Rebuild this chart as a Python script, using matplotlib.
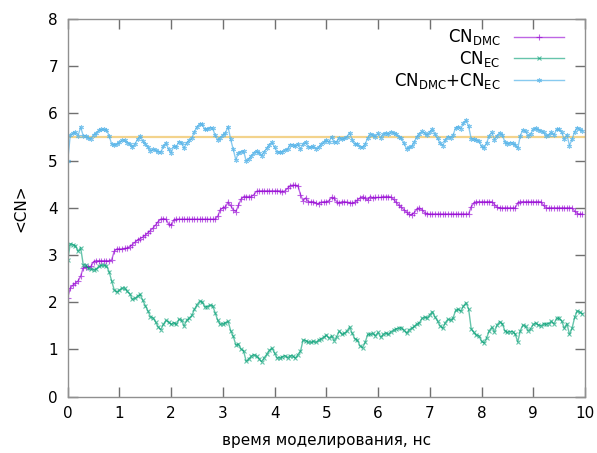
import numpy as np
import matplotlib
matplotlib.use("Agg")
import matplotlib.pyplot as plt


# ---------- DATA (0.05 ns step) ---------- #

time_ns = np.arange(200) * 0.05

cn_dmc = [
    2.10, 2.30, 2.36, 2.40, 2.45, 2.55, 2.73, 2.75, 2.75, 2.76,
    2.86, 2.88, 2.88, 2.88, 2.88, 2.88, 2.88, 2.90, 3.08, 3.13,
    3.13, 3.13, 3.14, 3.15, 3.18, 3.22, 3.27, 3.32, 3.35, 3.38,
    3.42, 3.47, 3.52, 3.57, 3.64, 3.71, 3.76, 3.77, 3.76, 3.66,
    3.63, 3.74, 3.76, 3.76, 3.76, 3.76, 3.76, 3.76, 3.76, 3.76,
    3.76, 3.76, 3.76, 3.76, 3.76, 3.76, 3.76, 3.76, 3.82, 3.96,
    4.00, 4.02, 4.12, 4.05, 3.96, 3.92, 4.05, 4.18, 4.24, 4.24,
    4.24, 4.24, 4.28, 4.35, 4.36, 4.36, 4.36, 4.36, 4.36, 4.36,
    4.36, 4.36, 4.36, 4.34, 4.36, 4.41, 4.47, 4.48, 4.48, 4.47,
    4.28, 4.15, 4.21, 4.13, 4.13, 4.13, 4.10, 4.08, 4.12, 4.13,
    4.13, 4.15, 4.22, 4.20, 4.13, 4.10, 4.13, 4.13, 4.12, 4.11,
    4.10, 4.12, 4.16, 4.21, 4.24, 4.20, 4.16, 4.24, 4.21, 4.22,
    4.22, 4.22, 4.24, 4.24, 4.24, 4.23, 4.18, 4.12, 4.06, 4.01,
    3.96, 3.91, 3.86, 3.85, 3.90, 3.97, 4.00, 3.96, 3.90, 3.87,
    3.87, 3.87, 3.87, 3.87, 3.87, 3.87, 3.87, 3.87, 3.87, 3.87,
    3.87, 3.87, 3.87, 3.87, 3.87, 3.87, 4.02, 4.10, 4.13, 4.13,
    4.13, 4.13, 4.13, 4.13, 4.13, 4.07, 4.01, 4.00, 4.00, 4.00,
    4.00, 4.00, 4.00, 4.00, 4.10, 4.13, 4.13, 4.13, 4.13, 4.13,
    4.13, 4.13, 4.13, 4.13, 4.05, 4.00, 4.00, 4.00, 4.00, 4.00,
    4.00, 4.00, 4.00, 4.00, 4.00, 4.00, 3.93, 3.88, 3.87, 3.87,
]

cn_ec = [
    2.90, 3.24, 3.22, 3.20, 3.08, 3.16, 2.80, 2.78, 2.72, 2.70,
    2.69, 2.70, 2.76, 2.78, 2.78, 2.77, 2.65, 2.45, 2.26, 2.22,
    2.26, 2.30, 2.30, 2.23, 2.18, 2.06, 2.08, 2.13, 2.17, 2.04,
    1.93, 1.82, 1.69, 1.67, 1.58, 1.48, 1.42, 1.53, 1.62, 1.58,
    1.53, 1.57, 1.53, 1.64, 1.62, 1.50, 1.62, 1.67, 1.72, 1.85,
    1.95, 2.02, 2.01, 1.90, 1.91, 1.94, 1.93, 1.78, 1.62, 1.53,
    1.54, 1.57, 1.60, 1.40, 1.28, 1.10, 1.11, 1.01, 0.97, 0.75,
    0.80, 0.86, 0.89, 0.86, 0.80, 0.74, 0.83, 0.90, 0.98, 1.03,
    0.92, 0.82, 0.82, 0.85, 0.87, 0.83, 0.87, 0.86, 0.82, 0.89,
    0.96, 1.20, 1.19, 1.16, 1.15, 1.17, 1.15, 1.20, 1.23, 1.26,
    1.31, 1.24, 1.29, 1.19, 1.27, 1.39, 1.32, 1.34, 1.39, 1.48,
    1.34, 1.23, 1.20, 1.08, 1.04, 1.15, 1.32, 1.32, 1.34, 1.29,
    1.36, 1.26, 1.32, 1.35, 1.32, 1.38, 1.41, 1.44, 1.45, 1.46,
    1.41, 1.34, 1.42, 1.45, 1.49, 1.54, 1.57, 1.66, 1.68, 1.67,
    1.74, 1.80, 1.69, 1.60, 1.50, 1.45, 1.57, 1.64, 1.62, 1.67,
    1.83, 1.85, 1.81, 1.92, 1.99, 1.86, 1.44, 1.36, 1.30, 1.29,
    1.17, 1.14, 1.25, 1.40, 1.47, 1.37, 1.52, 1.59, 1.55, 1.40,
    1.36, 1.38, 1.38, 1.33, 1.16, 1.40, 1.52, 1.49, 1.40, 1.44,
    1.53, 1.56, 1.52, 1.50, 1.55, 1.53, 1.55, 1.60, 1.54, 1.66,
    1.66, 1.60, 1.45, 1.55, 1.32, 1.45, 1.68, 1.82, 1.79, 1.76,
]

cn_total = np.array(cn_dmc) + np.array(cn_ec)

ref_level = 5.5


# ---------- PLOT ---------- #

plt.rcParams['font.family'] = 'DejaVu Sans'
plt.rcParams['font.size'] = 11

fig = plt.figure(figsize=(5.97, 4.53), dpi=100)
ax = fig.add_axes([67.7 / 597, 1 - 396.7 / 453, (585 - 67.7) / 597, (396.7 - 19) / 453])

ax.axhline(ref_level, color='#E69F00', alpha=0.45, lw=1.6, zorder=1)

ax.plot(time_ns, cn_dmc, color='#9400D3', alpha=0.6, lw=1, marker='+',
        markersize=4, markeredgewidth=0.8, label=r'CN$_{\mathregular{DMC}}$')
ax.plot(time_ns, cn_ec, color='#009E73', alpha=0.6, lw=1, marker='x',
        markersize=3.5, markeredgewidth=0.8, label=r'CN$_{\mathregular{EC}}$')
ax.plot(time_ns, cn_total, color='#56B4E9', alpha=0.7, lw=1, marker=(6, 2, 0),
        markersize=3.5, markeredgewidth=0.8,
        label=r'CN$_{\mathregular{DMC}}$+CN$_{\mathregular{EC}}$')

ax.set_xlim(0, 10)
ax.set_ylim(0, 8)
ax.set_xticks(range(0, 11))
ax.set_yticks(range(0, 9))

for side in ax.spines.values():
    side.set_color('#909090')
    side.set_linewidth(1)

ax.tick_params(direction='in', length=7, width=1, color='#707070',
               top=True, right=True, labelsize=11, pad=7)

ax.set_xlabel('время моделирования, нс', fontsize=11, labelpad=8)
ax.set_ylabel('<CN>', fontsize=11, labelpad=14)

ax.legend(loc='upper right', bbox_to_anchor=(1 - 13 / 517, 1.0),
          frameon=False, markerfirst=False, numpoints=1,
          handlelength=3.0, handletextpad=0.8, labelspacing=0.1,
          fontsize=12, borderaxespad=0.1)

fig.savefig('out.png', dpi=100)
